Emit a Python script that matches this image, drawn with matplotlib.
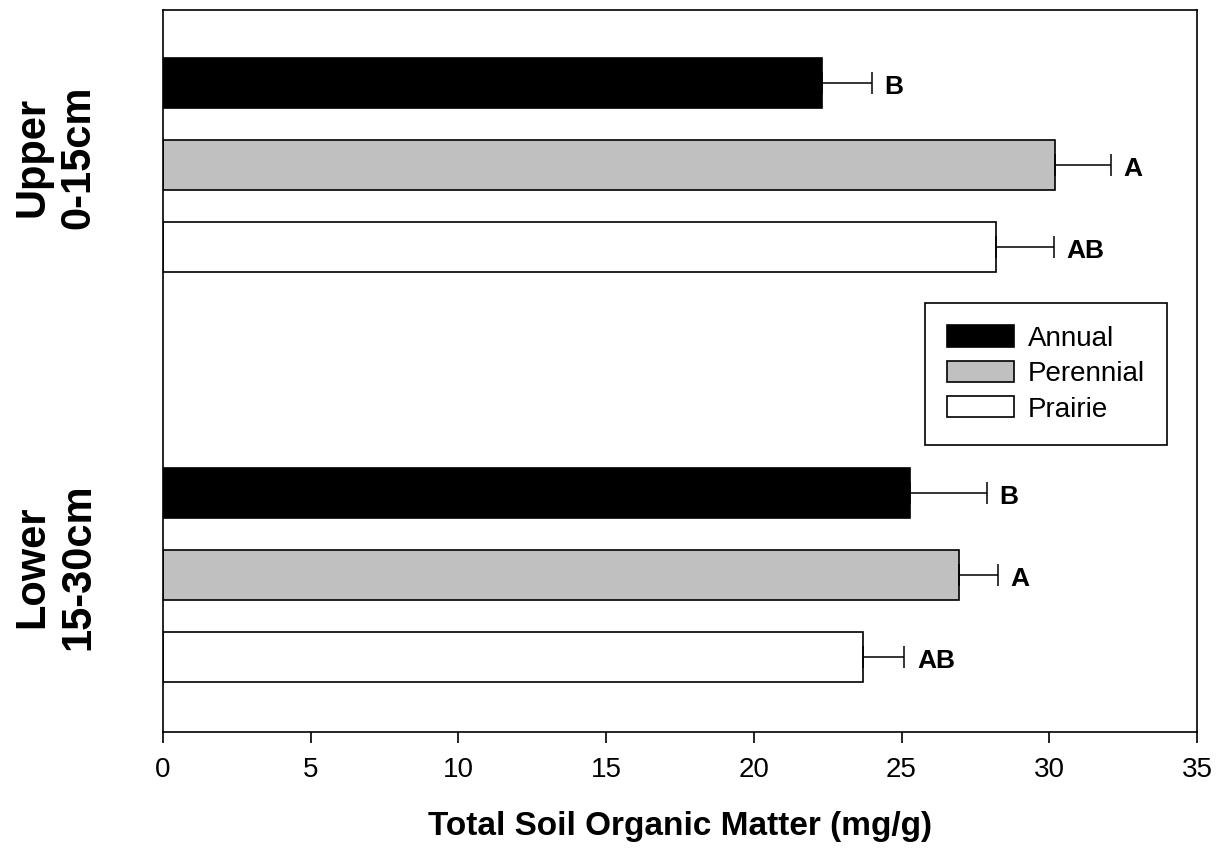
import numpy as np
import matplotlib.pyplot as plt
from matplotlib.patches import Patch
from matplotlib.transforms import blended_transform_factory

plt.rcParams['font.family'] = ['Liberation Sans', 'DejaVu Sans']

groups = ["Upper\n0-15cm", "Lower\n15-30cm"]
systems = ["Annual", "Perennial", "Prairie"]
colors = ["black", "#c0c0c0", "white"]

# mean and standard error per depth, order: Annual, Perennial, Prairie
upper_mean = [22.3, 30.2, 28.2]
upper_err = [1.7, 1.9, 1.95]
upper_letters = ["B", "A", "AB"]
lower_mean = [25.3, 26.95, 23.7]
lower_err = [2.6, 1.3, 1.4]
lower_letters = ["B", "A", "AB"]

means = [upper_mean, lower_mean]
errs = [upper_err, lower_err]
letters = [upper_letters, lower_letters]

fig = plt.figure(figsize=(12.24, 8.59), dpi=100)
ax = fig.add_axes([0.1332, 0.1478, 0.8447, 0.8406])

for g in range(len(groups)):
    ypos = np.arange(len(systems)) + 5 * g
    for i in range(len(systems)):
        ax.barh(ypos[i], means[g][i], height=0.61, color=colors[i],
                edgecolor="black", linewidth=1.2, zorder=2)
        ax.errorbar(means[g][i], ypos[i], xerr=[[0], [errs[g][i]]],
                    fmt="none", ecolor="black", elinewidth=1.1,
                    capsize=8, capthick=1.1, zorder=3)
        ax.annotate(letters[g][i], (means[g][i] + errs[g][i], ypos[i]),
                    xytext=(9, -3), textcoords="offset points",
                    ha="left", va="center", fontsize=19, fontweight="bold")
    trans = blended_transform_factory(ax.transAxes, ax.transData)
    ax.text(-0.104, ypos[1] - 0.1, groups[g], transform=trans, rotation=90,
            ha="center", va="center", multialignment="center",
            fontsize=30, fontweight="bold", linespacing=1.2)

ax.set_xlim(0, 35)
ax.set_ylim(7.915, -0.89)
ax.set_xticks(np.arange(0, 36, 5))
ax.set_yticks([])
ax.tick_params(axis="x", direction="out", length=8, width=1.2,
               labelsize=20, pad=10)
for s in ax.spines.values():
    s.set_linewidth(1.2)

ax.set_xlabel("Total Soil Organic Matter (mg/g)", fontsize=24,
              fontweight="bold", labelpad=20)

handles = [Patch(facecolor=c, edgecolor="black", linewidth=1.2) for c in colors]
leg = ax.legend(handles, systems, loc="upper right",
                bbox_to_anchor=(0.971, 0.594), borderaxespad=0,
                fontsize=20, frameon=True, fancybox=False, edgecolor="black",
                framealpha=1, handlelength=2.4, handleheight=0.8,
                handletextpad=0.5, labelspacing=0.33, borderpad=0.8)
leg.get_frame().set_linewidth(1.2)

plt.savefig("out.png", dpi=100)
